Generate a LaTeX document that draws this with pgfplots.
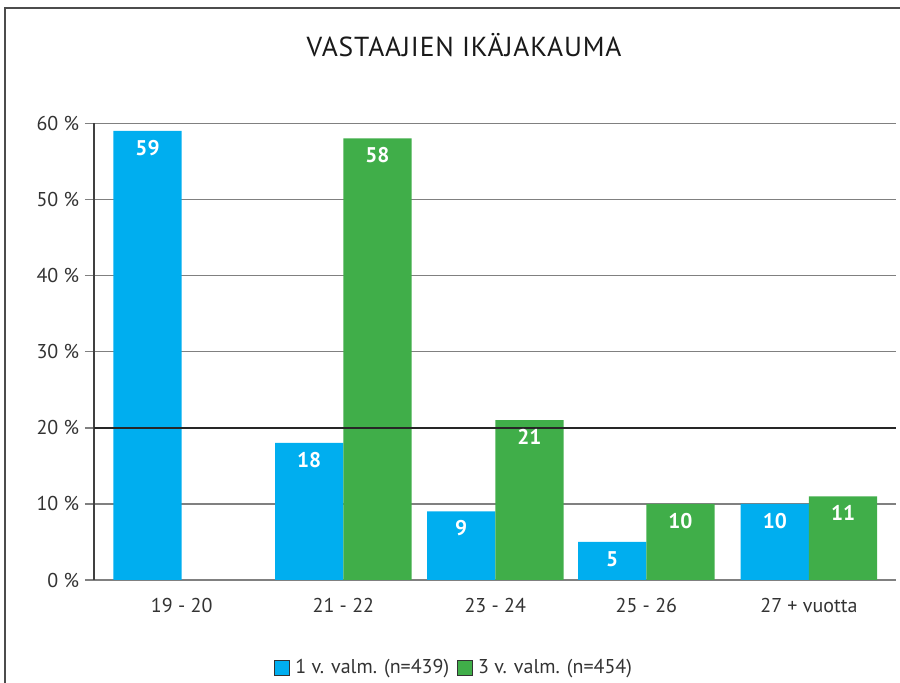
\documentclass[border=0pt]{standalone}
\usepackage{fontspec}
\setmainfont{PT Sans}
\newfontfamily\titlefont[LetterSpace=3]{PT Sans}
\usepackage{pgfplots}
\pgfplotsset{compat=1.18}
\definecolor{cblue}{HTML}{00AEEF}
\definecolor{cgreen}{HTML}{40AE49}
\begin{document}
\begin{tikzpicture}
\useasboundingbox (0pt,0pt) rectangle (360pt,273.2pt);
\draw[black!70, line width=0.7pt] (2pt,-5pt) -- (2pt,270pt) -- (365pt,270pt);
\node[font=\titlefont\fontsize{11}{13}\selectfont, text=black!90] at (185.6pt,255pt) {VASTAAJIEN IKÄJAKAUMA};
\begin{axis}[
  at={(37.6pt,41.2pt)}, anchor=south west, scale only axis,
  width=320.8pt, height=182.7pt,
  xmin=-0.559, xmax=4.555, ymin=0, ymax=60,
  ybar=0pt, bar width=27.3pt,
  axis x line=bottom, axis y line=left,
  x axis line style={-, draw=black!50, line width=0.6pt},
  y axis line style={-, draw=black!75, line width=0.6pt},
  tick align=outside, major tick length=3.6pt,
  ytick style={draw=black!50, line width=0.6pt},
  xtick style={draw=none},
  ymajorgrids, major grid style={black!50, line width=0.6pt},
  ytick={0,10,...,60},
  yticklabel={\pgfmathprintnumber{\tick}~\%},
  yticklabel style={xshift=1.2pt},
  /pgf/number format/assume math mode=true,
  xtick={0,1.031,2,2.963,4},
  xticklabels={19 - 20, 21 - 22, 23 - 24, 25 - 26, 27 + vuotta},
  tick label style={font=\fontsize{8}{10}\selectfont, text=black!80},
  legend style={at={(0.4506,-0.1927)}, anchor=center, draw=none, fill=none,
    legend columns=2, font=\fontsize{8}{10}\selectfont, text=black!80,
    /tikz/every even column/.append style={column sep=1pt}},
  legend image code/.code={\draw[#1, draw=black!80, line width=0.4pt] (0pt,-3.1pt) rectangle (6.2pt,3.1pt);},
]
\addplot[fill=cblue, draw=none,
  nodes near coords, nodes near coords style={white, font=\bfseries\fontsize{8.5}{10}\selectfont, anchor=center, yshift=-6.8pt}]
  coordinates {(0,59) (1.031,18) (2,9) (2.963,5) (4,10)};
\addplot[fill=cgreen, draw=none,
  nodes near coords, nodes near coords style={white, font=\bfseries\fontsize{8.5}{10}\selectfont, anchor=center, yshift=-6.8pt}]
  coordinates {(1.031,58) (2,21) (2.963,10) (4,11)};
\legend{1 v. valm. (n=439), 3 v. valm. (n=454)}
\draw[black!85, line width=0.6pt] (axis cs:-0.559,20) -- (axis cs:4.555,20);
\end{axis}
\end{tikzpicture}
\end{document}
